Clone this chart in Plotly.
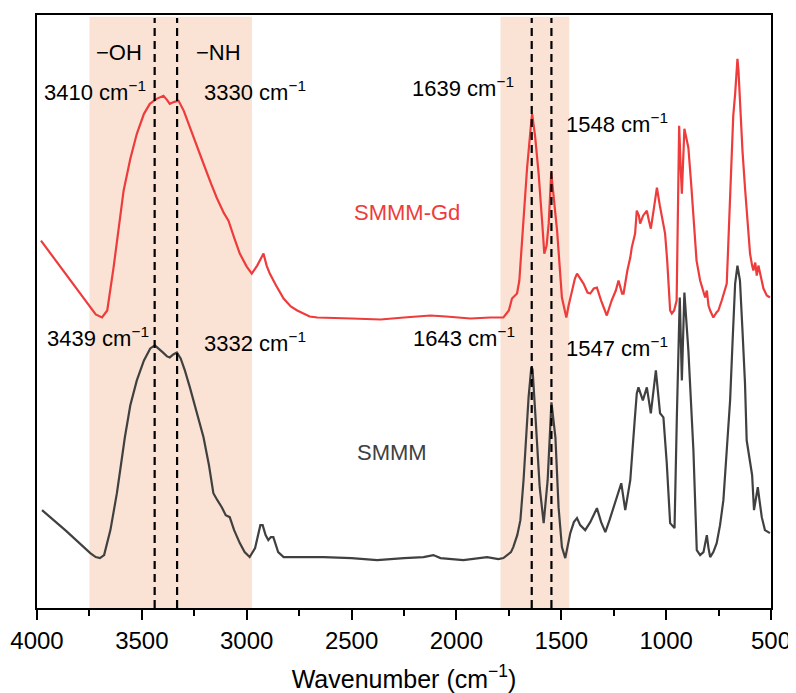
import plotly.graph_objects as go

# ---------------- data ----------------
wn_gd = [3981, 3860, 3746, 3720, 3690, 3665, 3635, 3610, 3587, 3555, 3524, 3490, 3462, 3430, 3410,
         3397, 3380, 3367, 3345, 3325, 3300, 3271, 3240, 3206, 3170, 3143, 3110, 3087, 3060, 3033,
         3000, 2976, 2950, 2920, 2905, 2890, 2860, 2824, 2790, 2759, 2700, 2663, 2500, 2362, 2250,
         2124, 2050, 1933, 1838, 1776, 1750, 1735, 1711, 1700, 1687, 1663, 1645, 1639, 1625, 1608,
         1590, 1581, 1570, 1560, 1548, 1540, 1520, 1497, 1476, 1465, 1449, 1435, 1425, 1410, 1394,
         1375, 1362, 1345, 1330, 1310, 1283, 1260, 1240, 1227, 1210, 1203, 1185, 1171, 1164, 1148,
         1140, 1130, 1124, 1110, 1092, 1082, 1073, 1060, 1044, 1030, 1020, 1005, 995, 981, 973,
         962, 950, 938, 930, 925, 913, 905, 894, 880, 870, 855, 838, 822, 814, 806,
         798, 790, 775, 760, 751, 735, 720, 711, 703, 690, 680, 671, 665, 660, 655,
         648, 636, 624, 610, 600, 590, 584, 575, 568, 560, 550, 536, 520, 505]
ab_gd = [365, 331, 298, 291, 288, 295, 338, 380, 415, 447, 472, 492, 502, 507, 509,
         510, 506, 502, 504, 505, 495, 478, 460, 442, 422, 408, 393, 385, 368, 352,
         339, 332, 340, 352, 340, 332, 320, 307, 299, 295, 289, 288, 287, 286, 288,
         290, 289, 287, 288, 288, 295, 307, 312, 325, 365, 438, 480, 492, 470, 432,
         380, 352, 360, 382, 433, 415, 375, 308, 288, 300, 315, 327, 332, 327, 322,
         313, 312, 317, 318, 305, 290, 305, 315, 325, 312, 312, 335, 348, 358, 372,
         395, 390, 382, 390, 395, 385, 377, 395, 418, 400, 387, 372, 345, 295, 292,
         295, 305, 480, 435, 412, 477, 470, 458, 420, 388, 345, 325, 312, 308, 315,
         300, 295, 288, 293, 295, 305, 315, 322, 365, 445, 490, 512, 535, 547, 535,
         505, 455, 418, 375, 352, 340, 335, 343, 330, 340, 330, 317, 310, 308]

wn_s = [3976, 3860, 3746, 3720, 3700, 3680, 3650, 3619, 3600, 3581, 3555, 3524, 3490, 3460, 3438,
        3420, 3400, 3380, 3367, 3350, 3333, 3315, 3295, 3271, 3240, 3206, 3180, 3159, 3140, 3119,
        3100, 3081, 3060, 3033, 3010, 2986, 2960, 2935, 2924, 2910, 2897, 2885, 2873, 2850, 2824,
        2700, 2633, 2500, 2378, 2250, 2157, 2110, 2090, 2076, 1967, 1900, 1854, 1800, 1776, 1740,
        1729, 1710, 1695, 1680, 1671, 1656, 1643, 1637, 1624, 1603, 1584, 1565, 1547, 1528, 1513,
        1497, 1481, 1470, 1457, 1440, 1425, 1410, 1386, 1362, 1330, 1310, 1290, 1270, 1251, 1230,
        1214, 1195, 1171, 1150, 1140, 1132, 1111, 1092, 1073, 1049, 1029, 1013, 997, 981, 960,
        949, 935, 925, 913, 894, 870, 854, 838, 822, 806, 798, 790, 775, 759, 743,
        727, 711, 695, 683, 671, 660, 648, 636, 624, 616, 600, 590, 581, 572, 563,
        555, 544, 529, 505]
ab_s = [95, 74, 52, 48, 47, 50, 75, 112, 140, 168, 200, 225, 245, 257, 260,
        257, 253, 249, 248, 251, 253, 247, 235, 218, 195, 168, 140, 112, 105, 98,
        90, 88, 75, 62, 53, 48, 57, 80, 80, 70, 65, 68, 68, 53, 48,
        48, 48, 47, 45, 47, 48, 50, 48, 47, 45, 47, 48, 46, 47, 53,
        58, 70, 85, 125, 158, 208, 238, 236, 192, 118, 82, 125, 203, 168, 98,
        58, 47, 60, 72, 83, 87, 80, 75, 83, 97, 83, 73, 85, 97, 110,
        122, 95, 125, 185, 212, 218, 205, 218, 192, 235, 192, 188, 142, 82, 77,
        188, 308, 225, 313, 255, 155, 55, 50, 53, 70, 57, 48, 53, 62, 80,
        105, 155, 205, 265, 322, 340, 325, 275, 222, 165, 145, 130, 95, 105, 118,
        105, 88, 75, 72]

band_ranges = [(3750, 2975), (1790, 1462)]
marker_lines = [3439, 3332, 1641, 1547]
x_ticks = [4000, 3500, 3000, 2500, 2000, 1500, 1000, 500]

# ---------------- figure ----------------
FONT = "Arial, Liberation Sans, sans-serif"
RED = "#EE3B3B"
DARK = "#404040"

fig = go.Figure()
fig.add_trace(go.Scatter(x=wn_gd, y=ab_gd, mode="lines", name="SMMM-Gd",
                         line=dict(color=RED, width=2.2), showlegend=False))
fig.add_trace(go.Scatter(x=wn_s, y=ab_s, mode="lines", name="SMMM",
                         line=dict(color=DARK, width=2.2), showlegend=False))

for x0, x1 in band_ranges:
    fig.add_shape(type="rect", xref="x", yref="paper", x0=x0, x1=x1, y0=0, y1=0.997,
                  fillcolor="#FAE3D5", line=dict(width=0), layer="below")
for xv in marker_lines:
    fig.add_shape(type="line", xref="x", yref="paper", x0=xv, x1=xv, y0=0, y1=0.995,
                  line=dict(color="black", width=2.2, dash="8px,5px"), layer="above")

labels = [
    ("\u2212OH", 3608, 553, "black"),
    ("\u2212NH", 3133, 553, "black"),
    ("3410 cm<sup>\u22121</sup>", 3724, 515, "black"),
    ("3330 cm<sup>\u22121</sup>", 2962, 515, "black"),
    ("1639 cm<sup>\u22121</sup>", 1967, 519, "black"),
    ("1548 cm<sup>\u22121</sup>", 1233, 483, "black"),
    ("SMMM-Gd", 2238, 393, RED),
    ("3439 cm<sup>\u22121</sup>", 3710, 268, "black"),
    ("3332 cm<sup>\u22121</sup>", 2962, 263, "black"),
    ("1643 cm<sup>\u22121</sup>", 1962, 268, "black"),
    ("1547 cm<sup>\u22121</sup>", 1233, 258, "black"),
    ("SMMM", 2305, 153, DARK),
]
for txt, xv, yv, col in labels:
    fig.add_annotation(x=xv, y=yv, xref="x", yref="y", text=txt, showarrow=False,
                       font=dict(family=FONT, size=22, color=col),
                       xanchor="center", yanchor="middle")

# the page's default 8px body margin offsets the figure, so it is sized to fit the window
fig.update_layout(
    width=788, height=685,
    margin=dict(l=29, r=25, t=7, b=85),
    paper_bgcolor="white", plot_bgcolor="white",
    font=dict(family=FONT, color="black"),
    xaxis=dict(range=[4000, 500], tickvals=x_ticks, ticktext=[str(v) for v in x_ticks],
               ticks="outside", ticklen=10, tickwidth=2, tickcolor="black",
               minor=dict(dtick=250, ticks="outside", ticklen=6, tickwidth=2, tickcolor="black"),
               showline=True, linewidth=2, linecolor="black", mirror=True,
               showgrid=False, zeroline=False, automargin=False,
               tickfont=dict(family=FONT, size=24, color="black"),
               title=dict(text="Wavenumber (cm<sup>\u22121</sup>)",
                          font=dict(family=FONT, size=25, color="black"), standoff=20)),
    yaxis=dict(range=[-3, 591], showticklabels=False, ticks="",
               showline=True, linewidth=2, linecolor="black", mirror=True,
               showgrid=False, zeroline=False, automargin=False),
)

fig.write_html("out.html")
